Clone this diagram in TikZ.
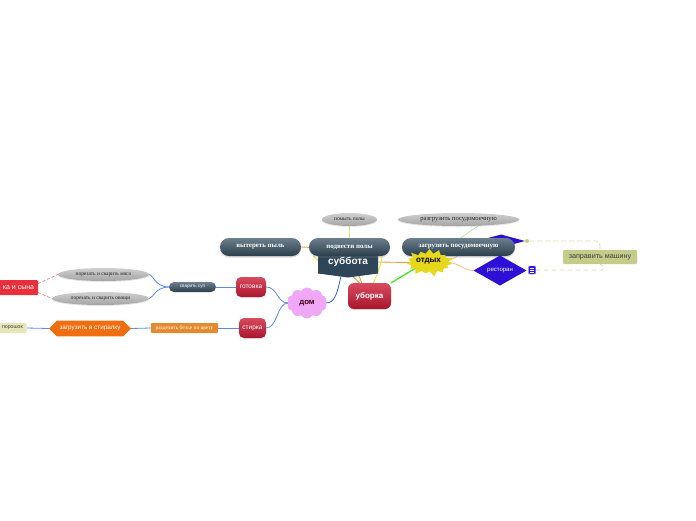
\documentclass[tikz,border=0pt]{standalone}
\usepackage{fontspec}
\setmainfont{Liberation Sans}
\newfontfamily\serf{Liberation Serif}
\usetikzlibrary{shapes.geometric,shapes.symbols,shapes.misc,shadows,calc,backgrounds}
\definecolor{slateT}{HTML}{6B7F8E}
\definecolor{slateB}{HTML}{2B3E4C}
\definecolor{subcol}{HTML}{2E4657}
\definecolor{greyT}{HTML}{D0D0D0}
\definecolor{greyB}{HTML}{A4A4A4}
\definecolor{crimT}{HTML}{D84A5E}
\definecolor{crimB}{HTML}{A8162E}
\definecolor{pinkc}{HTML}{F0A8F6}
\definecolor{yelc}{HTML}{E6D81C}
\definecolor{indig}{HTML}{2E0FD6}
\definecolor{olivec}{HTML}{C3CC88}
\definecolor{orangec}{HTML}{EE6E10}
\definecolor{orange2}{HTML}{E4892C}
\definecolor{redc}{HTML}{E8303C}
\definecolor{beigec}{HTML}{E6E6B6}
\definecolor{bluel}{HTML}{5A88F0}
\definecolor{blued}{HTML}{2F5FE8}
\definecolor{orl}{HTML}{F2A038}
\definecolor{orpale}{HTML}{F6C07A}
\definecolor{yell}{HTML}{E4E830}
\definecolor{greenl}{HTML}{44E820}
\definecolor{greenp}{HTML}{A6EE8A}
\definecolor{dashc}{HTML}{D8DCA8}
\definecolor{redd}{HTML}{F08080}
\tikzset{
  every node/.style={inner sep=0pt, outer sep=0pt, align=center},
  pill/.style={rounded corners=9pt, minimum height=18pt, top color=slateT, bottom color=slateB,
    text=white, font=\serf\bfseries\fontsize{6.9}{7}\selectfont,
    drop shadow={opacity=0.3, shadow xshift=0pt, shadow yshift=-1.5pt}},
  greyell/.style={ellipse, top color=greyT, bottom color=greyB, text=black!85,
    font=\serf\fontsize{5.4}{6}\selectfont,
    drop shadow={opacity=0.2, shadow xshift=0pt, shadow yshift=-1pt}},
  crim/.style={rounded corners=5pt, top color=crimT, bottom color=crimB, text=white,
    font=\fontsize{6.5}{7}\selectfont,
    drop shadow={opacity=0.2, shadow xshift=0pt, shadow yshift=-1pt}},
  bl/.style={draw=bluel, line width=0.8pt},
  dsh/.style={dashc, line width=0.8pt, dash pattern=on 5pt off 3pt},
}
\begin{document}
\begin{tikzpicture}[x=1pt,y=-1pt]
\useasboundingbox (0,0) rectangle (696,520);

% central node
\node[minimum width=60pt, minimum height=25pt, text=white, font=\bfseries\fontsize{10}{11}\selectfont] (sub) at (348,262) {суббота};

% top row
\node[greyell, minimum width=55pt, minimum height=13pt] (pm) at (349.5,219.5) {помыть полы};
\node[greyell, minimum width=121pt, minimum height=13pt, font=\serf\fontsize{6.6}{7}\selectfont] (rz) at (458.5,219.5) {разгрузить посудомоечную};
\node[pill, minimum width=81pt] (vp) at (260.5,247) {вытереть пыль};
\node[pill, minimum width=81pt] (pp) at (349.5,247) {подвести полы};

% hidden diamond behind загрузить
\node[diamond, fill=indig, aspect=4, minimum width=48pt, minimum height=13pt] (hd) at (501,241) {};
\node[pill, minimum width=113pt] (zp) at (458.5,247) {загрузить посудомоечную};

% отдых
\node[starburst, starburst points=15, starburst point height=6pt, fill=yelc,
  minimum width=50pt, minimum height=30pt] (otd) at (429.5,262.5) {};
\node[font=\bfseries\fontsize{8}{9}\selectfont] (otdt) at (428.5,261) {отдых};

% ресторан
\node[diamond, fill=indig, aspect=1.8, minimum width=53pt, minimum height=30pt, text=white,
  font=\fontsize{6}{7}\selectfont] (rest) at (500,270.5) {ресторан};
\node[fill=indig, draw=indig!60, minimum width=7pt, minimum height=8pt, rounded corners=1pt] (ic) at (532,270) {};
\draw[white, line width=0.6pt] ($(ic.center)+(-2,-2)$) -- ($(ic.center)+(2,-2)$)
  ($(ic.center)+(-2,0)$) -- ($(ic.center)+(2,0)$)
  ($(ic.center)+(-2,2)$) -- ($(ic.center)+(2,2)$);
\node[circle, fill=olivec!90!yellow, minimum size=4pt] (dot) at (527,241) {};

% заправить машину
\node[fill=olivec, minimum width=74pt, minimum height=14pt, rounded corners=1pt, text=black!75,
  font=\fontsize{7.2}{8}\selectfont] (zm) at (600,257) {заправить машину};

% уборка, дом
\node[crim, minimum width=43pt, minimum height=26pt, rounded corners=6pt, font=\bfseries\fontsize{8}{9}\selectfont] (ub) at (369.5,296) {уборка};
\node[cloud, cloud puffs=10, cloud puff arc=120, aspect=1.3, fill=pinkc, minimum width=40pt, minimum height=31pt,
  text=black!70!purple, font=\bfseries\fontsize{7.8}{8}\selectfont] (dom) at (307,303) {дом};

% готовка branch
\node[crim, minimum width=30pt, minimum height=20pt] (got) at (251,287) {готовка};
\node[rounded corners=5pt, minimum width=47pt, minimum height=10pt, top color=slateT, bottom color=slateB,
  text=white, font=\fontsize{4.6}{5}\selectfont] (ss) at (192.5,287) {сварить суп};
\node[greyell, minimum width=91pt, minimum height=13pt] (mya) at (103.5,274.5) {порезать и сварить мясо};
\node[greyell, minimum width=97pt, minimum height=13pt] (ovo) at (100.5,298.5) {порезать и сварить овощи};
\node[fill=redc, minimum width=42pt, minimum height=15pt, anchor=east, text=white,
  font=\fontsize{7}{8}\selectfont, rounded corners=1pt] (ks) at (38,287.5) {\hspace*{3pt}ка и сына};

% стирка branch
\node[crim, minimum width=27pt, minimum height=20pt] (st) at (252.5,328) {стирка};
\node[fill=orange2, minimum width=67pt, minimum height=10pt, text=white, rounded corners=0.8pt,
  font=\serf\fontsize{5.4}{6}\selectfont] (rb) at (184.5,328) {разделить белье по цвету};
\node[chamfered rectangle, chamfered rectangle xsep=5pt, chamfered rectangle ysep=5.5pt, fill=orangec,
  minimum width=82pt, minimum height=11pt, text=white, font=\fontsize{6.3}{7}\selectfont] (zs) at (90,328.5) {загрузить в стиралку};
\node[fill=beigec, draw=beigec!80!black!20, minimum width=28pt, minimum height=10pt, anchor=east, rounded corners=1pt,
  text=black!75, font=\fontsize{5.2}{6}\selectfont] (por) at (26.5,328) {порошок};

\begin{scope}[on background layer]
  % connectors
  \draw[bl, draw=blued] ($(sub.south)+(-7,2)$) .. controls +(-4,16) and +(10,0) .. (dom.east);
  \draw[orl, line width=0.9pt] ($(sub.south)+(5,2)$) -- ($(ub.north)+(-10,0)$);
  \draw[orl, line width=0.9pt] (sub.east) -- (otd.west);
  \draw[orl, line width=0.9pt] ($(ub.north)+(-8,0)$) .. controls +(-6,-25) and +(25,0) .. (vp.east);
  \draw[yell, line width=0.9pt] ($(ub.north)+(4,0)$) .. controls +(6,-15) and +(0,6) .. ($(pp.south east)+(-8,0)$);
  \draw[yell, line width=0.9pt] ($(sub.west)+(2,0)$) -- ($(pp.south west)+(4,0)$);
  \draw[yell!70!green!60, line width=0.7pt] (pm.south) -- (pp.north);
  \draw[greenl, line width=1.3pt] (ub.north east) -- ($(zp.south)+(-23,0)$);
  \draw[greenp, line width=0.7pt] ($(zp.north)+(2,0)$) -- ($(rz.south)+(21,-1)$);
  \draw[orpale, line width=0.8pt] ($(otd.east)+(-3,0)$) .. controls +(12,0) and +(-10,0) .. (rest.west);
  \draw[orpale, line width=0.8pt] ($(otd.east)+(-3,-2)$) .. controls +(12,0) and +(-10,0) .. (hd.west);
  \draw[dsh] (dot.east) -- ($(zm.north)+(-3,-9)$) -- ($(zm.north)+(0,-5)$) -- (zm.north);
  \draw[dsh] (ic.east) -- ($(zm.south)+(3,6)$) -- ($(zm.south)+(3,2)$) -- (zm.south);
  \draw[bl] (dom.west) .. controls +(-12,0) and +(12,0) .. (got.east);
  \draw[bl] (dom.west) .. controls +(-12,0) and +(12,0) .. (st.east);
  \draw[bl] (got.west) -- (ss.east);
  \draw[bl] (ss.west) .. controls +(-14,0) and +(4,0) .. (mya.east);
  \draw[bl] (ss.west) .. controls +(-14,0) and +(4,0) .. (ovo.east);
  \draw[bl] (st.west) -- (rb.east);
  \draw[bl] (rb.west) -- (zs.east);
  \draw[bl] (zs.west) -- (por.east);
  \draw[redd, line width=0.7pt, dash pattern=on 3pt off 2pt] ($(ks.east)+(0,-4)$) -- (mya.west);
  \draw[redd, line width=0.7pt, dash pattern=on 3pt off 2pt] ($(ks.east)+(0,5)$) -- (ovo.west);
  % суббота shape
  \fill[subcol] ($(sub.north west)+(0,-6)$) -- ($(sub.north east)+(0,-6)$) -- ($(sub.south east)+(0,-1)$)
    -- ($(sub.south)+(0,3)$) -- ($(sub.south west)+(0,-1)$) -- cycle;
\end{scope}
\end{tikzpicture}
\end{document}
